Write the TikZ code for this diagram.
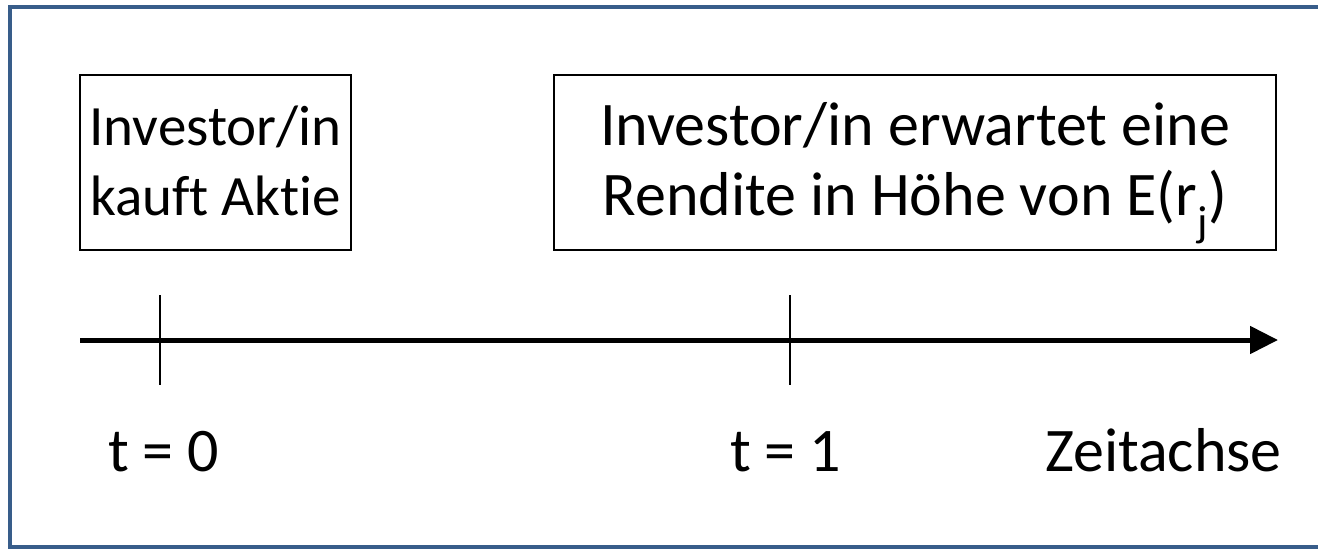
\documentclass[tikz,border=0pt]{standalone}
\usepackage{fontspec}
\setmainfont{Carlito}[Ligatures={NoCommon}]
\usetikzlibrary{arrows.meta}
\definecolor{frameblue}{RGB}{56,93,138}
\tikzset{
  eventbox/.style={draw=black, line width=1.6pt, fill=white, inner sep=0pt},
  label/.style={font=\fontsize{62}{70}\selectfont, inner sep=0pt, anchor=base},
  smalllabel/.style={label, font=\fontsize{57}{70}\selectfont},
  tick/.style={draw=black, line width=2pt},
  axis/.style={draw=black, line width=5pt, -{Triangle[length=28pt,width=27pt]}}
}
\begin{document}
\begin{tikzpicture}[x=1pt,y=-1pt]
  \useasboundingbox (0,0) rectangle (1318,549);
  \begin{scope}
    \clip (0,0) rectangle (1318,549);
    % outer frame (its right side lies past the edge)
    \draw[frameblue, line width=4pt] (10,7) rectangle (1324,547);
  \end{scope}

  % event boxes
  \node[eventbox, minimum width=271pt, minimum height=175pt] (b0) at (215.5,162.5) {};
  \node[eventbox, minimum width=722pt, minimum height=175pt] (b1) at (915,162.5) {};

  \node[smalllabel] (b0l1) at (215.5,145) {Investor/in};
  \node[smalllabel] (b0l2) at (215.5,215) {kauft Aktie};
  \node[label] (b1l1) at (915,145) {Investor/in erwartet eine};
  \node[label] (b1l2) at (915,215) {Rendite in Höhe von E(r\textsubscript{j})};

  % time axis
  \coordinate (axstart) at (80,340);
  \coordinate (axend) at (1278,340);
  \draw[axis] (axstart) -- (axend);

  \coordinate (t0top) at (160,295);
  \coordinate (t0bot) at (160,385);
  \coordinate (t1top) at (790,295);
  \coordinate (t1bot) at (790,385);
  \draw[tick] (t0top) -- (t0bot);
  \draw[tick] (t1top) -- (t1bot);

  \node[label, anchor=base west] (lt0) at (108,471) {t = 0};
  \node[label, anchor=base west] (lt1) at (730,471) {t = 1};
  \node[label, anchor=base east] (lax) at (1282,471) {Zeitachse};
\end{tikzpicture}
\end{document}
